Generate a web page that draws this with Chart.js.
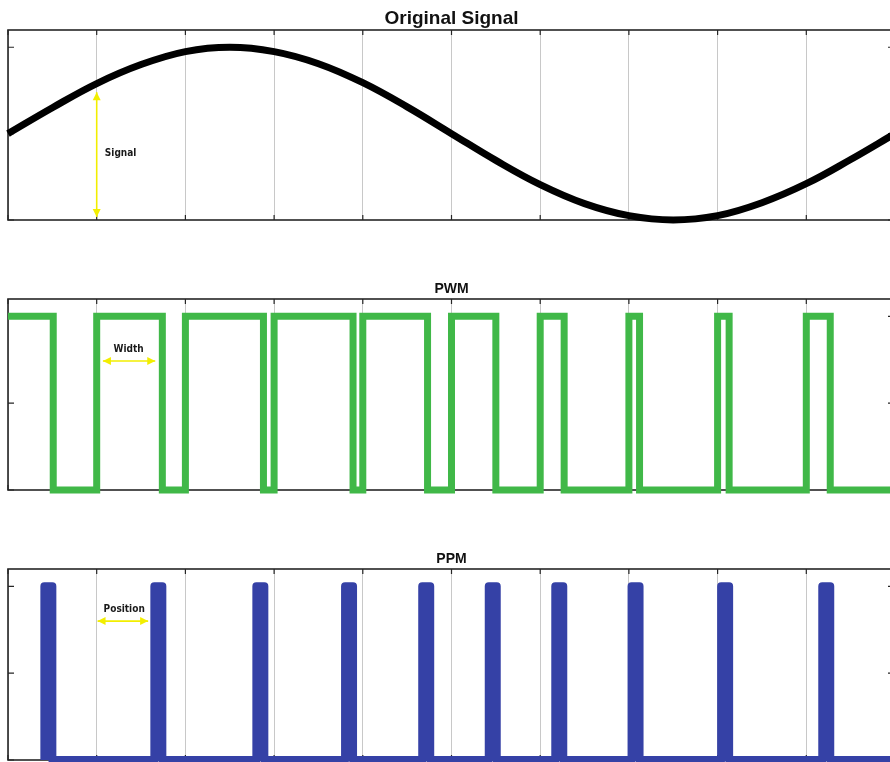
<!DOCTYPE html>
<html>
<head>
<meta charset="utf-8">
<script src="https://cdn.jsdelivr.net/npm/chart.js@4"></script>
<style>
    html, body { margin: 0; padding: 0; background: #fff; overflow: hidden; }
    #wrap { position: relative; width: 890px; height: 762px; overflow: hidden; }
    canvas { position: absolute; left: 0; }
</style>
</head>
<body>
<div id="wrap">
    <canvas id="cSignal" width="904" height="232" style="top:0px"></canvas>
    <canvas id="cPwm" width="904" height="240" style="top:260px"></canvas>
    <canvas id="cPpm" width="904" height="232" style="top:530px"></canvas>
</div>
<script>
// =========================
// DATOS
// =========================
const signalT = [0, 0.05, 0.1, 0.15, 0.2, 0.25, 0.3, 0.35, 0.4, 0.45, 0.5,
                 0.55, 0.6, 0.65, 0.7, 0.75, 0.8, 0.85, 0.9, 0.95, 1];
const signalV = [0, 0.30, 0.58, 0.80, 0.95, 1.0, 0.95, 0.81, 0.59, 0.31, 0,
                 -0.31, -0.59, -0.81, -0.95, -1.0, -0.95, -0.80, -0.58, -0.30, 0];

// PWM: each pulse goes high at pwmRise and low at pwmFall
const pwmRise = [0, 0.1, 0.2, 0.3, 0.4, 0.5, 0.6, 0.7, 0.8, 0.9];
const pwmFall = [0.051, 0.174, 0.288, 0.389, 0.473, 0.550, 0.627, 0.712, 0.813, 0.927];

// PPM: short pulses
const ppmStart = [0.041, 0.165, 0.280, 0.380, 0.467, 0.542, 0.617, 0.703, 0.804, 0.918];
const ppmEnd   = [0.050, 0.174, 0.289, 0.389, 0.476, 0.551, 0.626, 0.712, 0.813, 0.927];

const xTicks = [0, 0.1, 0.2, 0.3, 0.4, 0.5, 0.6, 0.7, 0.8, 0.9, 1];
const yTicksSignal = [-1, 0, 1];
const yTicksPulse = [0, 0.5, 1];

const tMax = 1;

// =========================
// PUNTOS
// =========================
function pulsePoints(starts, ends) {
    const pts = [];
    starts.forEach((s, i) => {
        if (s === 0) {
            pts.push({ x: s, y: 1 });
        } else {
            pts.push({ x: s, y: 0 });
            pts.push({ x: s, y: 1 });
        }
        pts.push({ x: ends[i], y: 1 });
        pts.push({ x: ends[i], y: 0 });
    });
    pts.push({ x: tMax, y: 0 });
    return pts;
}

const signalPts = signalT.map((t, i) => ({ x: t, y: signalV[i] }));

// =========================
// PLUGIN: caja, ticks, título, anotaciones
// =========================
const matlabLook = {
    id: 'matlabLook',
    beforeDatasetsDraw(chart, args, opts) {
        const ctx = chart.ctx;
        const a = chart.chartArea;
        const xs = chart.scales.x;
        const ys = chart.scales.y;
        ctx.save();
        ctx.strokeStyle = '#262626';
        ctx.lineWidth = 1.6;
        ctx.strokeRect(a.left, a.top, a.right - a.left, a.bottom - a.top);
        ctx.lineWidth = 1.2;
        ctx.beginPath();
        xs.ticks.forEach(tk => {
            const px = xs.getPixelForValue(tk.value);
            ctx.moveTo(px, a.top); ctx.lineTo(px, a.top + 5);
            ctx.moveTo(px, a.bottom); ctx.lineTo(px, a.bottom - 5);
        });
        ys.ticks.forEach(tk => {
            const py = ys.getPixelForValue(tk.value);
            ctx.moveTo(a.left, py); ctx.lineTo(a.left + 6, py);
            ctx.moveTo(a.right, py); ctx.lineTo(a.right - 7, py);
        });
        ctx.stroke();
        ctx.restore();
    },
    afterDatasetsDraw(chart, args, opts) {
        const ctx = chart.ctx;
        const a = chart.chartArea;
        const xs = chart.scales.x;
        const ys = chart.scales.y;
        ctx.save();
        ctx.fillStyle = '#111';
        ctx.font = opts.titleFont;
        ctx.textAlign = 'center';
        ctx.textBaseline = 'alphabetic';
        ctx.fillText(opts.title, (a.left + a.right) / 2, a.top - 6);

        const n = opts.note;
        if (n) {
            const x1 = xs.getPixelForValue(n.x1), y1 = ys.getPixelForValue(n.y1);
            const x2 = xs.getPixelForValue(n.x2), y2 = ys.getPixelForValue(n.y2);
            ctx.strokeStyle = '#f2ee00';
            ctx.fillStyle = '#f2ee00';
            ctx.lineWidth = 1.6;
            ctx.beginPath();
            ctx.moveTo(x1, y1); ctx.lineTo(x2, y2);
            ctx.stroke();
            const ang = Math.atan2(y2 - y1, x2 - x1);
            [[x1, y1, ang + Math.PI], [x2, y2, ang]].forEach(([hx, hy, an]) => {
                ctx.beginPath();
                ctx.moveTo(hx, hy);
                ctx.lineTo(hx - 8 * Math.cos(an) + 4 * Math.sin(an), hy - 8 * Math.sin(an) - 4 * Math.cos(an));
                ctx.lineTo(hx - 8 * Math.cos(an) - 4 * Math.sin(an), hy - 8 * Math.sin(an) + 4 * Math.cos(an));
                ctx.closePath();
                ctx.fill();
            });
            ctx.fillStyle = '#1a1a1a';
            ctx.font = 'bold 10px "DejaVu Sans Condensed", "DejaVu Sans", sans-serif';
            ctx.textBaseline = 'middle';
            ctx.fillText(n.label, xs.getPixelForValue(n.lx), ys.getPixelForValue(n.ly));
        }
        ctx.restore();
    }
};

// =========================
// GRÁFICOS
// =========================
function makeChart(id, points, color, lineWidth, tension, yMin, yMax, yTicks, padTop, padBottom, title, titleFont, note, join) {
    return new Chart(document.getElementById(id), {
        type: 'line',
        data: {
            datasets: [{
                data: points,
                borderColor: color,
                borderWidth: lineWidth,
                pointRadius: 0,
                fill: false,
                tension: tension,
                borderJoinStyle: join,
                clip: false
            }]
        },
        options: {
            responsive: false,
            animation: false,
            devicePixelRatio: 1,
            // el borde derecho queda justo fuera de la ventana, como en la figura original
            layout: { padding: { top: padTop, bottom: padBottom, left: 8, right: 9 } },
            plugins: {
                legend: { display: false },
                tooltip: { enabled: false },
                title: { display: false },
                matlabLook: { title: title, titleFont: titleFont, note: note }
            },
            scales: {
                x: {
                    type: 'linear',
                    min: 0,
                    max: tMax,
                    afterBuildTicks: s => { s.ticks = xTicks.map(v => ({ value: v })); },
                    afterFit: s => { s.height = 0; },
                    ticks: { display: false },
                    grid: { display: true, color: '#c8c8c8', lineWidth: 1, drawTicks: false },
                    border: { display: false }
                },
                y: {
                    type: 'linear',
                    min: yMin,
                    max: yMax,
                    afterBuildTicks: s => { s.ticks = yTicks.map(v => ({ value: v })); },
                    afterFit: s => { s.width = 0; },
                    ticks: { display: false },
                    grid: { display: false, drawTicks: false },
                    border: { display: false }
                }
            }
        },
        plugins: [matlabLook]
    });
}

makeChart('cSignal', signalPts, '#000000', 7, 0.4, -1, 1.2, yTicksSignal, 30, 12,
    'Original Signal', 'bold 19px "Liberation Sans", Arial, sans-serif',
    { x1: 0.1, y1: 0.48, x2: 0.1, y2: -0.965, label: 'Signal', lx: 0.127, ly: -0.225 }, 'round');

makeChart('cPwm', pulsePoints(pwmRise, pwmFall), '#40b848', 7, 0, 0, 1.1, yTicksPulse, 39, 10,
    'PWM', 'bold 14px "Liberation Sans", Arial, sans-serif',
    { x1: 0.107, y1: 0.743, x2: 0.166, y2: 0.743, label: 'Width', lx: 0.136, ly: 0.812 }, 'miter');

makeChart('cPpm', pulsePoints(ppmStart, ppmEnd), '#3541a6', 8, 0, 0, 1.1, yTicksPulse, 39, 2,
    'PPM', 'bold 14px "Liberation Sans", Arial, sans-serif',
    { x1: 0.101, y1: 0.80, x2: 0.158, y2: 0.80, label: 'Position', lx: 0.131, ly: 0.87 }, 'round');
</script>
</body>
</html>
